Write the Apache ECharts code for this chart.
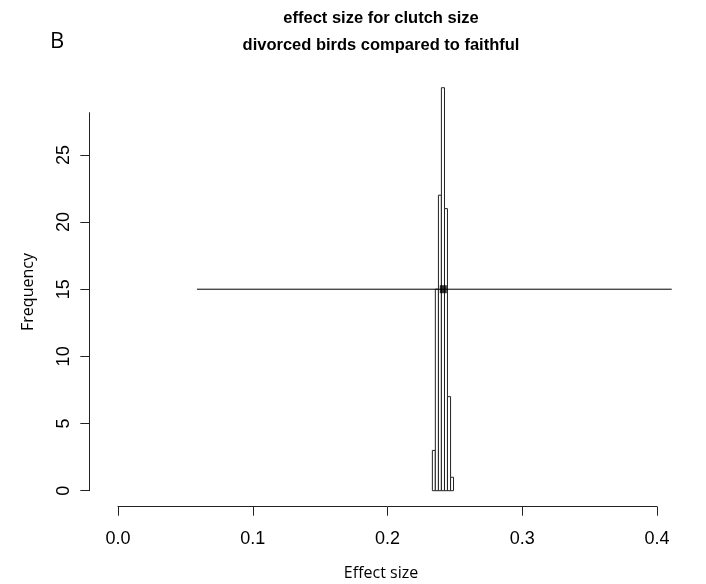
<!DOCTYPE html>
<html>
<head>
<meta charset="utf-8">
<script src="https://cdn.jsdelivr.net/npm/echarts@6/dist/echarts.min.js"></script>
<style>
  html, body { margin: 0; padding: 0; background: #fff; }
  #chart { width: 706px; height: 584px; }
</style>
</head>
<body>
<div id="chart"></div>
<script>
// Bootstrap distribution of the effect size (histogram bins)
const binEdges = [0.2333, 0.2355, 0.2378, 0.2400, 0.2423, 0.2445, 0.2468, 0.2490];
const binCounts = [3, 15, 22, 30, 21, 7, 1];

// Point estimate and its confidence interval, drawn at this frequency level
const meanEffect = 0.2414;
const ciBounds = [0.0586, 0.4109];
const ciLevel = 15;

// Axis ticks
const xTicks = [0.0, 0.1, 0.2, 0.3, 0.4];
const yTicks = [0, 5, 10, 15, 20, 25];

const titleLines = ['effect size for clutch size', 'divorced birds compared to faithful'];
const panelLetter = 'B';
const xTitle = 'Effect size';
const yTitle = 'Frequency';

const histData = binCounts.map((c, i) => [binEdges[i], binEdges[i + 1], c]);

const chart = echarts.init(document.getElementById('chart'), null, { renderer: 'canvas' });

const axisColor = '#222';
const tickFont = { fontFamily: 'Liberation Sans', fontSize: 18, color: '#000' };

chart.setOption({
  animation: false,
  backgroundColor: '#fff',
  grid: { left: 118, right: 49, top: 112.7, bottom: 93.3, outerBoundsMode: 'none' },
  xAxis: {
    type: 'value',
    min: xTicks[0],
    max: xTicks[xTicks.length - 1],
    interval: 0.1,
    offset: 16,
    axisLine: { show: true, onZero: false, lineStyle: { color: axisColor, width: 1 } },
    axisTick: { show: true, length: 9, lineStyle: { color: axisColor } },
    axisLabel: Object.assign({ margin: 23, formatter: v => v.toFixed(1) }, tickFont),
    splitLine: { show: false }
  },
  yAxis: {
    type: 'value',
    min: 0,
    max: 28.14,
    offset: 28.7,
    axisLine: { show: true, onZero: false, lineStyle: { color: axisColor, width: 1 } },
    axisTick: { show: true, length: 9, customValues: yTicks, lineStyle: { color: axisColor } },
    axisLabel: Object.assign({ margin: 16, rotate: 90, customValues: yTicks }, tickFont),
    splitLine: { show: false }
  },
  graphic: [
    {
      type: 'text', x: 57, y: 42,
      style: { text: panelLetter, font: '22px "Open Sans"', fill: '#000', align: 'center', verticalAlign: 'middle' }
    },
    {
      type: 'text', x: 381, y: 18,
      style: { text: titleLines[0], font: 'bold 16.5px "Liberation Sans"', fill: '#000', align: 'center', verticalAlign: 'middle' }
    },
    {
      type: 'text', x: 381, y: 45,
      style: { text: titleLines[1], font: 'bold 16.5px "Liberation Sans"', fill: '#000', align: 'center', verticalAlign: 'middle' }
    },
    {
      type: 'text', x: 381, y: 573,
      style: { text: xTitle, font: '16px "Open Sans"', fill: '#000', align: 'center', verticalAlign: 'middle' }
    },
    {
      type: 'text', x: 28, y: 292, rotation: Math.PI / 2,
      style: { text: yTitle, font: '16px "Open Sans"', fill: '#000', align: 'center', verticalAlign: 'middle' }
    }
  ],
  series: [
    {
      // histogram bars
      type: 'custom',
      clip: false,
      z: 2,
      data: histData,
      renderItem: function (params, api) {
        const p0 = api.coord([api.value(0), 0]);
        const p1 = api.coord([api.value(1), api.value(2)]);
        return {
          type: 'rect',
          shape: { x: p0[0], y: p1[1], width: p1[0] - p0[0], height: p0[1] - p1[1] },
          style: { fill: '#fff', stroke: '#222', lineWidth: 1 }
        };
      }
    },
    {
      // confidence interval segment
      type: 'custom',
      clip: false,
      z: 3,
      data: [[ciBounds[0], ciBounds[1], ciLevel]],
      renderItem: function (params, api) {
        const a = api.coord([api.value(0), api.value(2)]);
        const b = api.coord([api.value(1), api.value(2)]);
        return {
          type: 'line',
          shape: { x1: a[0], y1: a[1], x2: b[0], y2: b[1] },
          style: { stroke: '#000', lineWidth: 1 }
        };
      }
    },
    {
      // point estimate
      type: 'scatter',
      clip: false,
      z: 4,
      data: [[meanEffect, ciLevel]],
      symbol: 'rect',
      symbolSize: [7, 8],
      itemStyle: { color: '#000' }
    }
  ]
});
</script>
</body>
</html>
